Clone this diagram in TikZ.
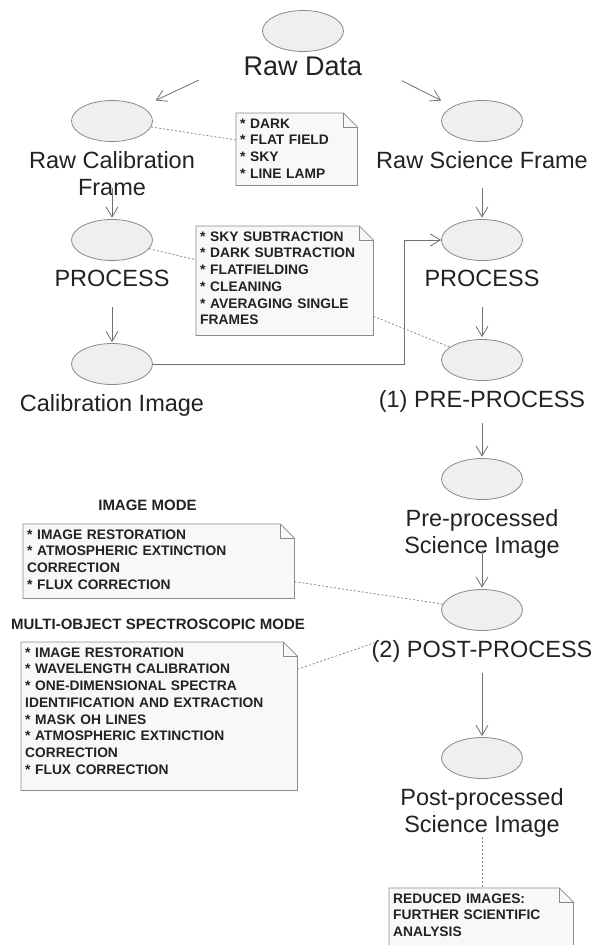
\documentclass[tikz,border=0pt]{standalone}
\usepackage{fontspec}
\setmainfont{Liberation Sans}
\usepackage{tikz}
\usetikzlibrary{shapes.geometric}
\usetikzlibrary{calc}
\usetikzlibrary{arrows.meta}
\usetikzlibrary{backgrounds}
\definecolor{casefill}{HTML}{EFEFEF}
\definecolor{caseline}{HTML}{8A8A8A}
\definecolor{notefill}{HTML}{F8F8F8}
\definecolor{flowline}{HTML}{707070}
\definecolor{inktext}{HTML}{222222}
\tikzset{usecase/.style={ellipse, draw=caseline, fill=casefill, line width=.8pt, minimum width=81pt, minimum height=41pt, inner sep=0pt}}
\tikzset{caption/.style={anchor=north, inner sep=0pt, align=center, text=inktext, font=\fontsize{23.5}{27}\selectfont}}
\tikzset{flow/.style={draw=flowline, line width=.8pt, -{Straight Barb[length=10pt,width=12pt]}}}
\tikzset{notelink/.style={draw=caseline, line width=.8pt, dash pattern=on 2pt off 2pt}}
\tikzset{notebox/.style={draw=caseline, fill=notefill, line width=.8pt}}
\tikzset{notetext/.style={anchor=north west, inner xsep=4pt, inner ysep=4pt, text height=11pt, align=left, text=inktext, font=\bfseries\fontsize{13.8}{16.7}\selectfont}}
\tikzset{modetitle/.style={anchor=base, inner sep=0pt, text=inktext, font=\bfseries\fontsize{15}{18}\selectfont}}

\begin{document}
\begin{tikzpicture}[x=1pt,y=-1pt]
  \useasboundingbox (0,0) rectangle (591,945);
  \node[usecase] (raw) at (303,31) {};
  \node[caption, font=\fontsize{27}{31}\selectfont] (raw-txt) at (303,57) {Raw Data};
  \foreach \x/\y/\lab/\txt in {
    112/121/rcal/{Raw Calibration\\Frame},
    482/121/rsci/{Raw Science Frame},
    112/240/procl/{PROCESS},
    482/240/procr/{PROCESS},
    112/364/calimg/{Calibration Image},
    482/360/pre/{(1) PRE-PROCESS},
    482/479/preimg/{Pre-processed\\Science Image},
    482/610/post/{(2) POST-PROCESS},
    482/758/postimg/{Post-processed\\Science Image}%
  } {
    \node[usecase] (\lab) at (\x, \y) {};
    \node[caption] (\lab-txt) at (\x, \y+30) {\txt};
  }

  % notes
  \node[notetext, text width=113pt, text depth=53pt] (dark) at (236,113)
    {* DARK\\{}* FLAT FIELD\\{}* SKY\\{}* LINE LAMP};
  \node[notetext, text width=169pt, text depth=90pt] (steps) at (196,226)
    {* SKY SUBTRACTION\\{}* DARK SUBTRACTION\\{}* FLATFIELDING\\{}* CLEANING\\{}* AVERAGING SINGLE\\FRAMES};
  \node[modetitle] (imgmode-title) at (147.5,510) {IMAGE MODE};
  \node[notetext, text width=263pt, text depth=55pt] (imgmode) at (23,524)
    {* IMAGE RESTORATION\\{}* ATMOSPHERIC EXTINCTION\\CORRECTION\\{}* FLUX CORRECTION};
  \node[modetitle] (mos-title) at (158,629) {MULTI-OBJECT SPECTROSCOPIC MODE};
  \node[notetext, text width=268pt, text depth=129pt] (mos) at (21,642)
    {* IMAGE RESTORATION\\{}* WAVELENGTH CALIBRATION\\{}* ONE-DIMENSIONAL SPECTRA\\IDENTIFICATION AND EXTRACTION\\{}* MASK OH LINES\\{}* ATMOSPHERIC EXTINCTION\\CORRECTION\\{}* FLUX CORRECTION};
  \node[notetext, text width=176pt, text depth=53pt] (reduced) at (389,888)
    {REDUCED IMAGES:\\FURTHER SCIENTIFIC\\ANALYSIS};

  \begin{scope}[on background layer]
    \foreach \n in {dark, steps, imgmode, mos, reduced} {
      \draw[notebox] (\n.south west) -- (\n.north west) -- ([xshift=-14pt]\n.north east)
        -- ([yshift=-14pt]\n.north east) -- (\n.south east) -- cycle;
      \draw[notebox, fill=none] ([xshift=-14pt]\n.north east) |- ([yshift=-14pt]\n.north east);
    }
  \end{scope}

  % flow
  \foreach \u/\v/\a/\b in {
    raw/rcal/82pt/15pt,
    raw/rsci/78pt/13pt,
    rcal/procl/46.5pt/1.5pt,
    procl/calimg/46.5pt/1pt,
    rsci/procr/46.5pt/1.5pt,
    procr/pre/46.5pt/2pt,
    pre/preimg/42.5pt/1.5pt,
    preimg/post/50.5pt/1.5pt,
    post/postimg/42.5pt/1pt%
  }{
    \draw[flow] (\u) edge[shorten <=\a, shorten >=\b] (\v);
  }
  \draw[flow] (calimg.east) -| ([xshift=-37pt]procr.west) -- (procr.west);

  % note links
  \foreach \u/\v in {
    rcal/dark,
    procl/steps,
    steps/pre,
    imgmode/post%
  }{
    \draw[notelink] (\u) -- (\v);
  }
  \coordinate (mos-end) at (380,641);
  \draw[notelink] (mos) -- (mos-end);
  \draw[notelink] (postimg-txt.south) -- (postimg-txt.south |- reduced.north);
\end{tikzpicture}
\end{document}
